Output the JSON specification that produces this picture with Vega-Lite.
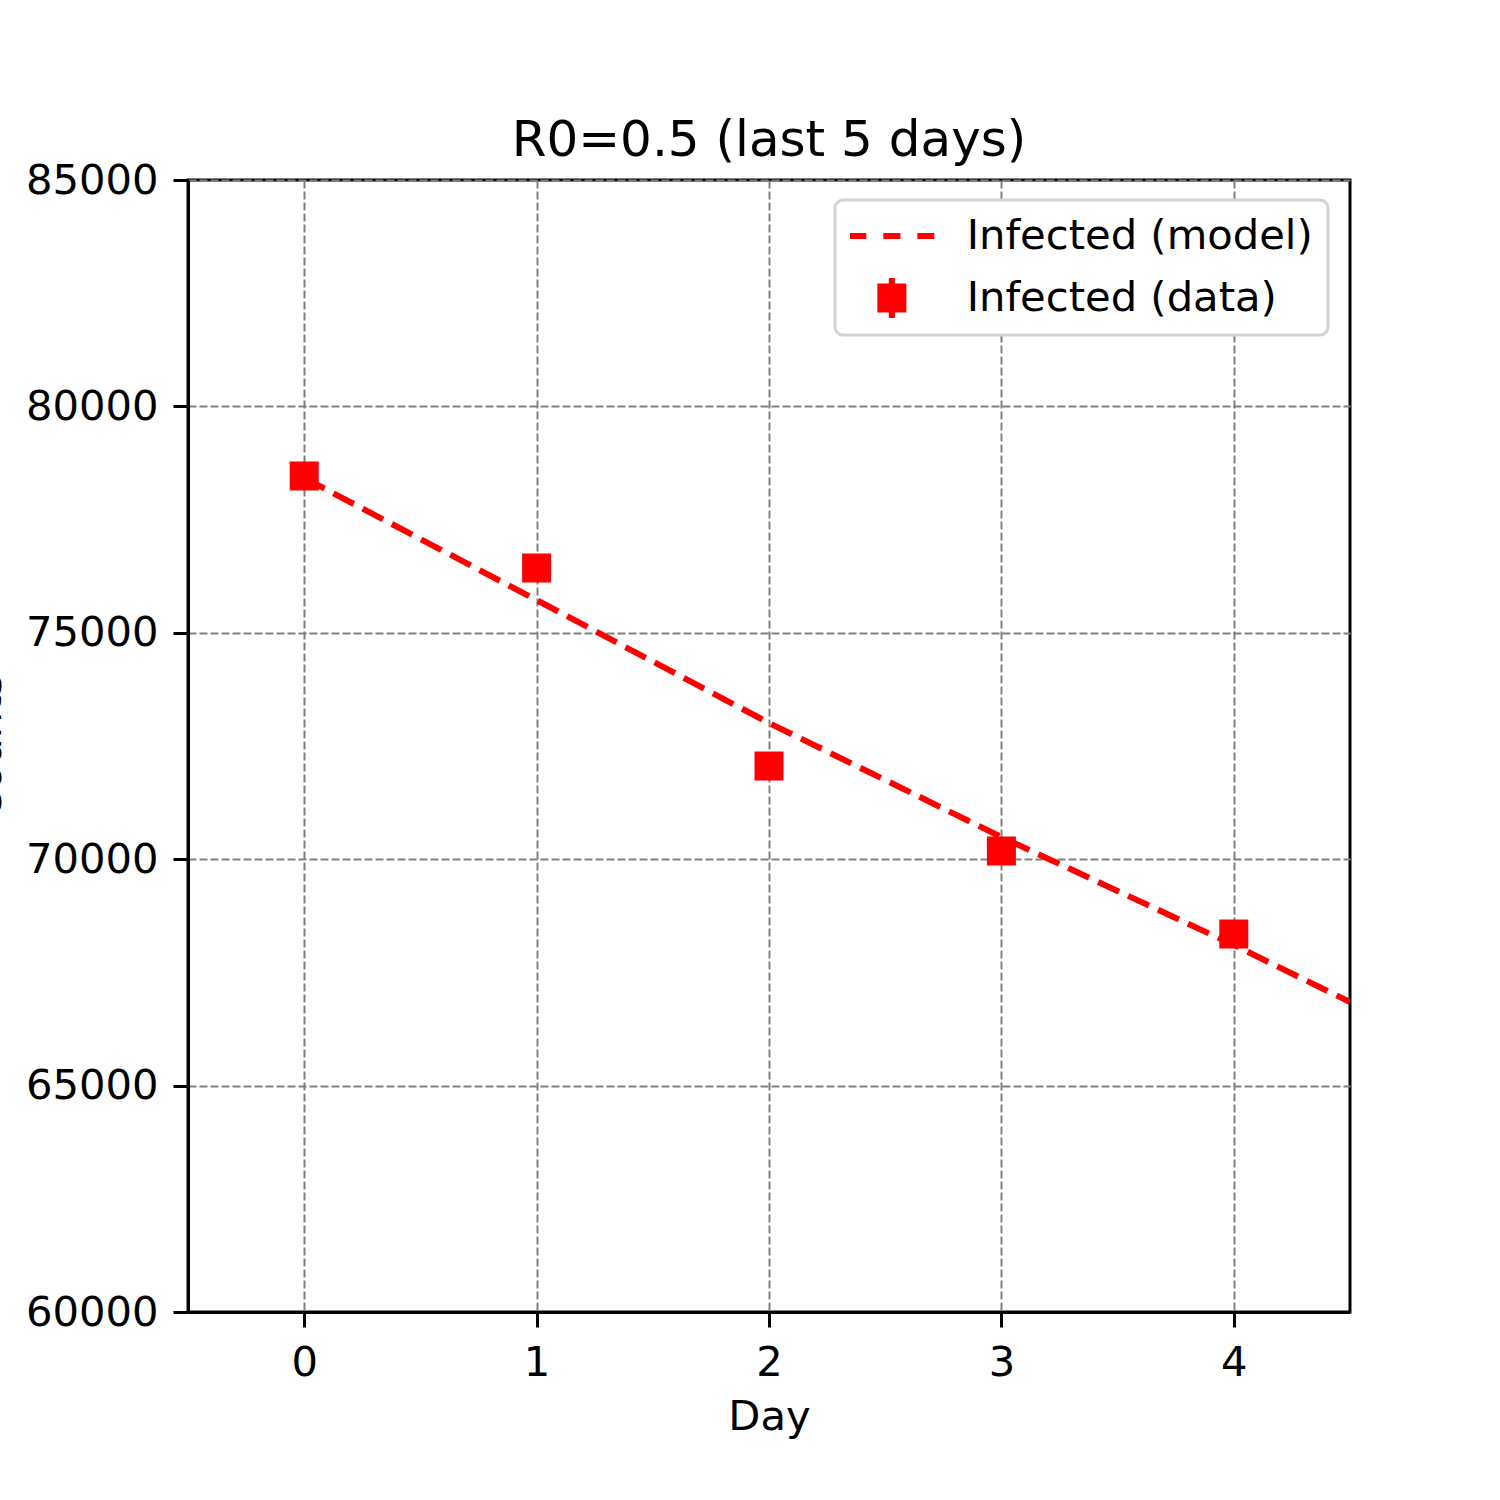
{
  "$schema": "https://vega.github.io/schema/vega-lite/v6.json",
  "autosize": {"type": "none"},
  "padding": {"left": 188, "top": 180, "right": 150, "bottom": 188},
  "width": 1162,
  "height": 1132,
  "background": "white",
  "title": {
    "text": "R0=0.5 (last 5 days)",
    "font": "DejaVu Sans",
    "fontSize": 50,
    "fontWeight": "normal",
    "color": "black",
    "anchor": "middle",
    "frame": "group",
    "baseline": "alphabetic",
    "offset": -46
  },
  "config": {
    "font": "DejaVu Sans",
    "view": {"stroke": "black", "strokeWidth": 3},
    "legend": {"strokeWidth": 3},
    "axis": {
      "labelFont": "DejaVu Sans",
      "labelFontSize": 41.7,
      "labelColor": "black",
      "titleFont": "DejaVu Sans",
      "titleFontSize": 41.7,
      "titleFontWeight": "normal",
      "titleColor": "black",
      "domainColor": "black",
      "domainWidth": 3,
      "tickColor": "black",
      "tickWidth": 3,
      "tickSize": 15,
      "labelPadding": 15,
      "grid": true,
      "gridColor": "#808080",
      "gridDash": [8, 3],
      "gridWidth": 2
    }
  },
  "datasets": {
    "model": [
      {"day": 0, "infected": 78419, "series": "Infected (model)"},
      {"day": 1, "infected": 75724, "series": "Infected (model)"},
      {"day": 2, "infected": 73008, "series": "Infected (model)"},
      {"day": 3, "infected": 70490, "series": "Infected (model)"},
      {"day": 4, "infected": 68105, "series": "Infected (model)"},
      {"day": 4.5, "infected": 66846, "series": "Infected (model)"}
    ],
    "observed": [
      {"day": 0, "infected": 78463, "series": "Infected (data)"},
      {"day": 1, "infected": 76431, "series": "Infected (data)"},
      {"day": 2, "infected": 72058, "series": "Infected (data)"},
      {"day": 3, "infected": 70181, "series": "Infected (data)"},
      {"day": 4, "infected": 68348, "series": "Infected (data)"}
    ]
  },
  "encoding": {
    "x": {
      "field": "day",
      "type": "quantitative",
      "scale": {"domain": [-0.5, 4.5], "nice": false, "zero": false},
      "axis": {"title": "Day", "values": [0, 1, 2, 3, 4], "format": "d", "titlePadding": 13}
    },
    "y": {
      "field": "infected",
      "type": "quantitative",
      "scale": {"domain": [60000, 85000], "nice": false, "zero": false},
      "axis": {
        "title": "Counts",
        "values": [60000, 65000, 70000, 75000, 80000, 85000],
        "format": "d",
        "titleBaseline": "alphabetic",
        "titlePadding": 25
      }
    }
  },
  "layer": [
    {
      "data": {"name": "model"},
      "mark": {"type": "line", "color": "red", "strokeWidth": 6, "strokeDash": [23, 10], "clip": true}
    },
    {
      "data": {"name": "observed"},
      "mark": {"type": "point", "shape": "square", "filled": true, "color": "red", "opacity": 1, "size": 841}
    },
    {
      "data": {"name": "observed"},
      "mark": {"type": "point", "filled": false, "color": "red", "opacity": 0, "strokeWidth": 6, "size": 841},
      "encoding": {
        "shape": {
          "field": "series",
          "type": "nominal",
          "scale": {
            "domain": ["Infected (model)", "Infected (data)"],
            "range": [
              "M-2.93,0H-1.76M-0.59,0H0.59M1.76,0H2.93",
              "M-1,-0.79H1M-1,-0.4H1M-1,0H1M-1,0.4H1M-1,0.79H1M0,-1.38V1.38"
            ]
          },
          "legend": {
            "title": null,
            "orient": "none",
            "legendX": 647,
            "legendY": 20,
            "padding": 15,
            "fillColor": "white",
            "strokeColor": "#d4d4d4",
            "cornerRadius": 8,
            "clipHeight": 42,
            "symbolSize": 841,
            "symbolOffset": 21,
            "symbolStrokeColor": "red",
            "symbolStrokeWidth": 6,
            "symbolOpacity": 1,
            "labelOffset": 54,
            "labelFont": "DejaVu Sans",
            "labelFontSize": 41.7,
            "labelColor": "black",
            "labelLimit": 600,
            "rowPadding": 19
          }
        }
      }
    }
  ]
}
